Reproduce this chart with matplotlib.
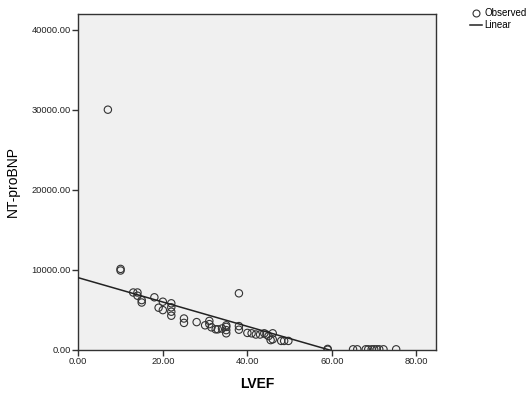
import numpy as np
import matplotlib
matplotlib.use("Agg")
import matplotlib.pyplot as plt
from matplotlib.lines import Line2D

plt.rcParams['font.family'] = ['Liberation Sans', 'DejaVu Sans']

lvef = [7, 10, 10, 13, 14, 14, 15, 15, 18, 19, 20, 20, 22, 22, 22, 22,
        25, 25, 28, 30, 31, 31, 31.5, 32.5, 33, 34, 35, 35, 35, 35,
        38, 38, 38, 40, 41, 42, 43, 44, 44.5, 45, 45.5, 46, 46,
        48, 48.7, 49.7, 59, 59, 65, 66, 68, 68.6, 69.4, 70, 70.6, 71.2, 72.2, 75.2]
ntprobnp = [30000, 10100, 9900, 7150, 7150, 6750, 6200, 5900, 6550, 5250, 6000, 4950,
            5800, 5300, 4750, 4250, 3900, 3350, 3450, 3050, 3200, 3600, 2800, 2550,
            2550, 2650, 3050, 2850, 2450, 2050, 7050, 2950, 2500, 2100, 2050, 1900,
            1900, 2050, 1900, 1700, 1200, 2050, 1300, 1100, 1100, 1100, 100, 0,
            50, 50, 50, 50, 50, 50, 50, 50, 50, 50]

# Linear fit line (intercept, slope)
intercept = 9000
slope = -152

xticks = [0, 20, 40, 60, 80]
yticks = [0, 10000, 20000, 30000, 40000]

fig = plt.figure(figsize=(5.29, 3.94), dpi=100)
ax = fig.add_axes([0.148, 0.1124, 0.676, 0.8529])
ax.set_facecolor('#f0f0f0')

edge = '#333333'
ax.scatter(lvef, ntprobnp, s=28, facecolors='none', edgecolors=edge, linewidths=0.8, zorder=3)

xs = np.array([0, 84.6])
ax.plot(xs, intercept + slope * xs, color='#222222', linewidth=1.1, zorder=4)

ax.set_xlim(0, 84.6)
ax.set_ylim(0, 42000)
ax.set_xticks(xticks)
ax.set_yticks(yticks)
ax.set_xticklabels(['%.2f' % t for t in xticks])
ax.set_yticklabels(['%.2f' % t for t in yticks])
ax.tick_params(axis='both', labelsize=6.7, length=4, width=1, color=edge,
               direction='out', pad=1.5, labelcolor='#222222')
for sp in ax.spines.values():
    sp.set_color(edge)
    sp.set_linewidth(1)

ax.set_xlabel('LVEF', fontsize=10, fontweight='bold', labelpad=8)
ax.set_ylabel('NT-proBNP', fontsize=10, labelpad=8)

handles = [Line2D([], [], marker='o', linestyle='none', markerfacecolor='none',
                  markeredgecolor=edge, markersize=5, markeredgewidth=0.8),
           Line2D([], [], color='#222222', linewidth=1.1)]
fig.legend(handles, ['Observed', 'Linear'], loc='upper left',
           bbox_to_anchor=(470 / 529, 1 - 8 / 394), frameon=False, fontsize=7,
           handlelength=1.2, handletextpad=0.3, labelspacing=0.2,
           borderpad=0, borderaxespad=0)

fig.savefig('out.png', dpi=100)
